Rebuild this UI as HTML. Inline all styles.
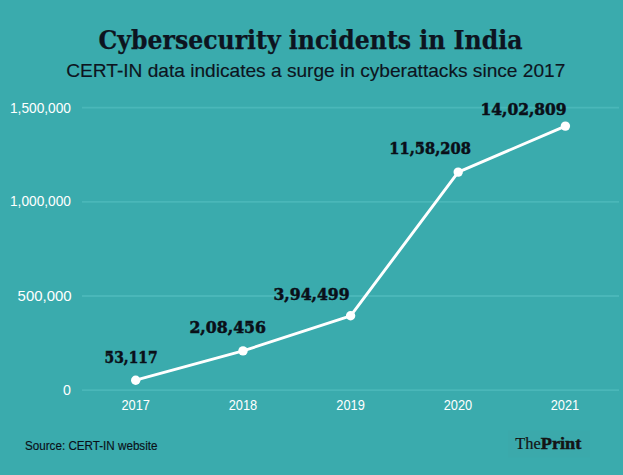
<!DOCTYPE html>
<html>
<head>
<meta charset="utf-8">
<style>
html,body{margin:0;padding:0;background:#3aabad;}
body{width:623px;height:475px;overflow:hidden;}
svg{display:block;}
.title{font-family:"DejaVu Serif Condensed","DejaVu Serif",serif;font-weight:bold;font-stretch:condensed;font-size:26.2px;fill:#0d1420;stroke:#0d1420;stroke-width:0.25px;}
.sub{font-family:"Liberation Sans",sans-serif;font-size:18.6px;fill:#0d1420;stroke:#0d1420;stroke-width:0.15px;}
.ax{font-family:"Liberation Sans",sans-serif;font-size:14.2px;fill:#ffffff;}
.val{font-family:"DejaVu Serif Condensed","DejaVu Serif",serif;font-weight:bold;font-stretch:condensed;font-size:16.6px;fill:#0a0f18;stroke:#0a0f18;stroke-width:0.5px;}
.src{font-family:"Liberation Sans",sans-serif;font-size:12.4px;fill:#0a1018;stroke:#0a1018;stroke-width:0.15px;}
.logo{font-family:"Liberation Serif",serif;font-size:17.2px;fill:#141414;stroke:#141414;stroke-width:0.2px;}
.lb{font-weight:bold;stroke:#141414;stroke-width:0.5px;}
</style>
</head>
<body>
<svg width="623" height="475" viewBox="0 0 623 475">
<rect x="0" y="0" width="623" height="475" fill="#3aabad"/>
<text class="title" x="310.5" y="49.2" text-anchor="middle" textLength="424" lengthAdjust="spacingAndGlyphs">Cybersecurity incidents in India</text>
<text class="sub" x="315.8" y="77.2" text-anchor="middle" textLength="499" lengthAdjust="spacingAndGlyphs">CERT-IN data indicates a surge in cyberattacks since 2017</text>
<g stroke="#4ab7b9" stroke-width="1.8">
<line x1="82" y1="107.6" x2="619" y2="107.6"/>
<line x1="82" y1="201.8" x2="619" y2="201.8"/>
<line x1="82" y1="296" x2="619" y2="296"/>
<line x1="82" y1="390.2" x2="619" y2="390.2"/>
</g>
<g class="ax" text-anchor="end">
<text x="71" y="112.6" textLength="61" lengthAdjust="spacingAndGlyphs">1,500,000</text>
<text x="71" y="206.3" textLength="61" lengthAdjust="spacingAndGlyphs">1,000,000</text>
<text x="71.6" y="300.7" textLength="54" lengthAdjust="spacingAndGlyphs">500,000</text>
<text x="71" y="395.2">0</text>
</g>
<g class="ax" text-anchor="middle">
<text x="135.7" y="410" textLength="28.5" lengthAdjust="spacingAndGlyphs">2017</text>
<text x="243" y="410" textLength="28.5" lengthAdjust="spacingAndGlyphs">2018</text>
<text x="350.6" y="410" textLength="28.5" lengthAdjust="spacingAndGlyphs">2019</text>
<text x="458" y="410" textLength="28.5" lengthAdjust="spacingAndGlyphs">2020</text>
<text x="565" y="410" textLength="28.5" lengthAdjust="spacingAndGlyphs">2021</text>
</g>
<polyline points="135.7,380.2 243,350.9 350.6,315.8 458.2,172.1 565.4,126.1" fill="none" stroke="#ffffff" stroke-width="2.9" stroke-linejoin="round"/>
<g fill="#ffffff">
<circle cx="135.7" cy="380.2" r="4.7"/>
<circle cx="243" cy="350.9" r="4.7"/>
<circle cx="350.6" cy="315.8" r="4.7"/>
<circle cx="458.2" cy="172.1" r="4.7"/>
<circle cx="565.4" cy="126.1" r="4.7"/>
</g>
<g class="val" text-anchor="middle">
<text x="131.1" y="363.3" textLength="53" lengthAdjust="spacingAndGlyphs">53,117</text>
<text x="227.7" y="332.7" textLength="76.5" lengthAdjust="spacingAndGlyphs">2,08,456</text>
<text x="311.5" y="300" textLength="76" lengthAdjust="spacingAndGlyphs">3,94,499</text>
<text x="430.1" y="154.1" textLength="81.5" lengthAdjust="spacingAndGlyphs">11,58,208</text>
<text x="523.6" y="115.2" textLength="86" lengthAdjust="spacingAndGlyphs">14,02,809</text>
</g>
<text class="src" x="25" y="450.4" textLength="132.5" lengthAdjust="spacingAndGlyphs">Source: CERT-IN website</text>
<rect x="508" y="430.5" width="82" height="27" fill="#3ba9ab"/>
<text class="logo" x="515.3" y="449.3" textLength="25.5" lengthAdjust="spacingAndGlyphs">The</text><text class="logo lb" x="540.8" y="449.3" textLength="40.5" lengthAdjust="spacingAndGlyphs">Print</text>
</svg>
</body>
</html>
